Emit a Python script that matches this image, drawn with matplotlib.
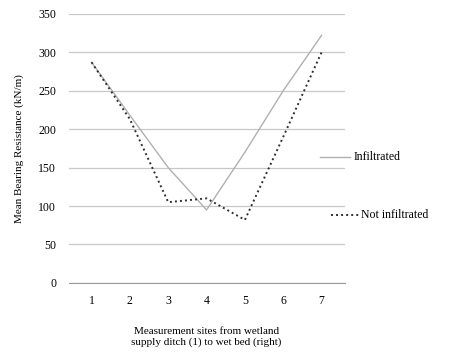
import numpy as np
import matplotlib.pyplot as plt
from matplotlib.lines import Line2D

plt.rcParams['font.family'] = ['Liberation Serif', 'DejaVu Serif']

sites = [1, 2, 3, 4, 5, 6, 7]
infiltrated = [287, 218, 150, 95, 170, 250, 322]
not_infiltrated = [287, 213, 105, 110, 82, 190, 300]
yticks = [0, 50, 100, 150, 200, 250, 300, 350]

fig = plt.figure(figsize=(4.51, 3.55), dpi=100)
ax = fig.add_axes([0.152, 0.203, 0.612, 0.758])

ax.plot(sites, infiltrated, color='#b0b0b0', lw=1.0)
ax.plot(sites, not_infiltrated, color='#303030', lw=1.4, ls=(0, (1, 1.6)))

ax.set_xlim(0.4, 7.6)
ax.set_ylim(0, 350)
ax.set_xticks(sites)
ax.set_yticks(yticks)
ax.yaxis.grid(True, color='#c8c8c8', lw=0.9)
ax.set_axisbelow(True)
for s in ['top', 'right', 'left']:
    ax.spines[s].set_visible(False)
ax.spines['bottom'].set_color('#9a9a9a')
ax.tick_params(length=0, labelsize=8.5, pad=9)

ax.set_ylabel('Mean Bearing Resistance (kN/m)', fontsize=8, labelpad=10)
ax.set_xlabel('Measurement sites from wetland\nsupply ditch (1) to wet bed (right)',
              fontsize=8, labelpad=14)

# legend on the right
fig.add_artist(Line2D([0.71, 0.775], [0.558, 0.558], color='#b0b0b0', lw=1.0,
                      transform=fig.transFigure))
fig.text(0.785, 0.558, 'Infiltrated', fontsize=8.5, va='center')
fig.add_artist(Line2D([0.735, 0.795], [0.395, 0.395], color='#303030', lw=1.4,
                      ls=(0, (1, 1.6)), transform=fig.transFigure))
fig.text(0.80, 0.395, 'Not infiltrated', fontsize=8.5, va='center')

fig.savefig('out.png', dpi=100)
